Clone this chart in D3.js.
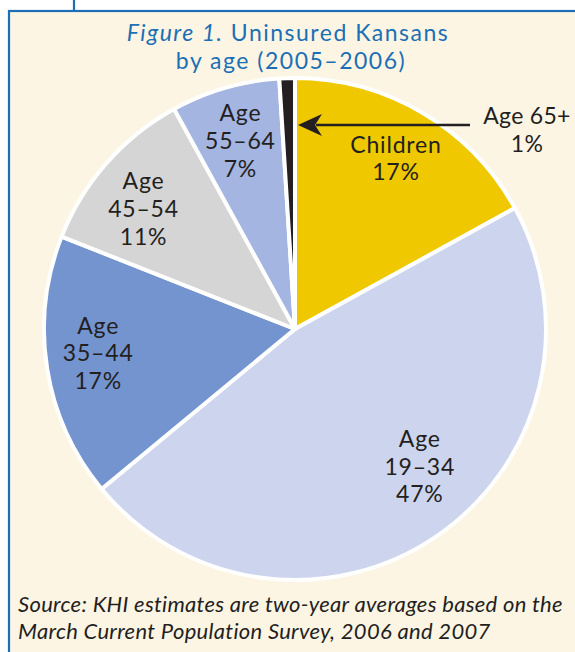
<!DOCTYPE html>
<html><head><meta charset="utf-8">
<script src="https://cdn.jsdelivr.net/npm/d3@7"></script>
<style>body{margin:0;background:#fff;} svg{display:block;}</style>
</head><body>
<svg id="c" width="575" height="652"></svg>
<script>
const categories = ["Children", "Age 19–34", "Age 35–44", "Age 45–54", "Age 55–64", "Age 65+"];
const values = [17, 47, 17, 11, 7, 1];
const labelLines = [["Children","17%"],["Age","19–34","47%"],["Age","35–44","17%"],["Age","45–54","11%"],["Age","55–64","7%"],["Age 65+","1%"]];
const colors = ["#f0c800","#cdd5ee","#7494cf","#d5d5d5","#a3b5e0","#231f20"];

const svg = d3.select("#c");
const font = "Lato, 'Open Sans', sans-serif";
// frame
svg.append("rect").attr("x",9).attr("y",11).attr("width",600).attr("height",700).attr("fill","#fdf5e4")
  .attr("stroke","#1a6fb5").attr("stroke-width",2.2);
svg.append("line").attr("x1",74).attr("x2",74).attr("y1",0).attr("y2",11).attr("stroke","#1a6fb5").attr("stroke-width",2.2);

// title
const t1 = svg.append("text").attr("x",288).attr("y",41).attr("text-anchor","middle")
  .attr("font-family",font).attr("font-size",23).attr("letter-spacing",1.5).attr("fill","#1a6fb5");
t1.append("tspan").attr("font-style","italic").text("Figure 1.");
t1.append("tspan").text(" Uninsured Kansans");
svg.append("text").attr("x",291).attr("y",69).attr("text-anchor","middle")
  .attr("font-family",font).attr("font-size",23).attr("letter-spacing",1.5).attr("fill","#1a6fb5").text("by age (2005–2006)");

const cx = 295, cy = 329, r = 251;
const pie = d3.pie().sort(null).value(d=>d)(values);
const arc = d3.arc().innerRadius(0).outerRadius(r);
const g = svg.append("g").attr("transform",`translate(${cx},${cy})`);
g.selectAll("path").data(pie).join("path").attr("d",arc)
  .attr("fill",(d,i)=>colors[i]).attr("stroke","#fff").attr("stroke-width",4).attr("stroke-linejoin","round");

// labels placed along each slice's mid-angle
const labelR = [0.79, 0.74, 0.79, 0.77, 0.78];
const labelDA = [0, -8, 2, -3, 0];
const lineH = 27.6;
pie.forEach((d,i)=>{
  if (i === 5) return;
  const a = (d.startAngle + d.endAngle)/2 + labelDA[i]*Math.PI/180;
  const rr = r*labelR[i];
  const x = Math.sin(a)*rr, y = -Math.cos(a)*rr;
  const lines = labelLines[i];
  const t = g.append("text").attr("text-anchor","middle").attr("font-family",font)
    .attr("font-size",23).attr("letter-spacing",0.8).attr("fill","#231f20");
  lines.forEach((l,k)=>{
    t.append("tspan").attr("x",x).attr("y", y + (k-(lines.length-1)/2)*lineH + 8).text(l);
  });
});

// Age 65+ callout
const tipY = -204;
svg.append("text").attr("text-anchor","middle").attr("font-family",font).attr("font-size",23).attr("letter-spacing",0.3).attr("fill","#231f20")
  .selectAll("tspan").data(labelLines[5]).join("tspan").attr("x",527).attr("y",(d,k)=>124+k*lineH).text(d=>d);
const tipX = cx + 3;
svg.append("line").attr("x1",470).attr("x2",tipX+18).attr("y1",cy+tipY).attr("y2",cy+tipY)
  .attr("stroke","#231f20").attr("stroke-width",2.5);
svg.append("path").attr("d",`M${tipX},${cy+tipY} L${tipX+24},${cy+tipY-11} L${tipX+17},${cy+tipY} L${tipX+24},${cy+tipY+11} Z`)
  .attr("fill","#231f20");

// source
const src = ["Source: KHI estimates are two-year averages based on the","March Current Population Survey, 2006 and 2007"];
svg.append("text").attr("font-family",font).attr("font-style","italic").attr("font-size",22).attr("letter-spacing",0.3).attr("fill","#231f20")
  .selectAll("tspan").data(src).join("tspan").attr("x",18).attr("y",(d,k)=>612+k*26.6).text(d=>d);
</script>
</body></html>
